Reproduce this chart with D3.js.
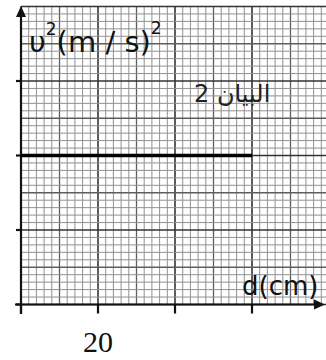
<!DOCTYPE html>
<html><head><meta charset="utf-8">
<script src="https://cdn.jsdelivr.net/npm/d3@7"></script>
<style>html,body{margin:0;padding:0;background:#fff;}svg{display:block;}</style>
</head><body>
<script>
// Data
const dValues = [0, 60];            // d (cm)
const v2Values = [2, 2];            // v^2 (grid units)
const xMajorTicks = [0, 20, 40, 60];
const xTickLabels = [{value: 20, label: "20"}];
const yMajorTicks = [0, 1, 2, 3];
const yLabel = "υ";
const xLabel = "d(cm)";
const graphLabel = "البيان 2";

const W = 326, H = 360;
const svg = d3.select("body").append("svg").attr("width", W).attr("height", H);

const x = d3.scaleLinear().domain([0, 80]).range([21, 329]);
const y = d3.scaleLinear().domain([0, 4]).range([304.5, 6.5]);

const gGrid = svg.append("g");
const xMinor = d3.range(0, 79.5, 2);
const yMinor = d3.range(0, 4.01, 0.1);

function styleFor(v, step) {
  const k = Math.round(v / step);
  if (k % 10 === 0) return {c: "#333", w: 1.6};
  if (k % 5 === 0) return {c: "#5e5e5e", w: 1.3};
  return {c: "#919191", w: 1};
}
xMinor.forEach(v => {
  const s = styleFor(v, 2);
  gGrid.append("line").attr("x1", x(v)).attr("x2", x(v)).attr("y1", y(4)).attr("y2", y(0))
    .attr("stroke", s.c).attr("stroke-width", s.w);
});
yMinor.forEach(v => {
  const s = styleFor(v, 0.1);
  gGrid.append("line").attr("x1", x(0)).attr("x2", W).attr("y1", y(v)).attr("y2", y(v))
    .attr("stroke", s.c).attr("stroke-width", s.w);
});

// Axes
const gAx = svg.append("g").attr("stroke", "#111").attr("fill", "none");
gAx.append("line").attr("x1", 15).attr("x2", 320).attr("y1", y(0)).attr("y2", y(0)).attr("stroke-width", 2.2);
gAx.append("line").attr("x1", x(0)).attr("x2", x(0)).attr("y1", 314).attr("y2", 12).attr("stroke-width", 2.2);
// arrows
svg.append("path").attr("d", `M${x(0)-5},${17} L${x(0)},${6} L${x(0)+5},${17} Z`).attr("fill", "#111");
svg.append("path").attr("d", `M314,${y(0)-5} L325,${y(0)} L314,${y(0)+5} Z`).attr("fill", "#111");
// ticks
xMajorTicks.forEach(v => {
  gAx.append("line").attr("x1", x(v)).attr("x2", x(v)).attr("y1", y(0)).attr("y2", y(0) + 9).attr("stroke-width", 2.2);
});
yMajorTicks.forEach(v => {
  gAx.append("line").attr("x1", x(0) - 5).attr("x2", x(0)).attr("y1", y(v)).attr("y2", y(v)).attr("stroke-width", 2.2);
});

// Data line
const line = d3.line().x((d, i) => x(dValues[i])).y((d, i) => y(v2Values[i]));
svg.append("path").datum(dValues).attr("d", line).attr("stroke", "#000").attr("stroke-width", 3.5).attr("fill", "none");

// Text
const sans = "'DejaVu Sans', sans-serif";
const yl = svg.append("text").attr("x", 29).attr("y", 52).attr("font-family", sans).attr("font-size", 29).attr("fill", "#111");
yl.append("tspan").text(yLabel);
yl.append("tspan").attr("font-size", 17).attr("dy", -17).text("2");
yl.append("tspan").attr("dy", 17).text("(m / s)");
yl.append("tspan").attr("font-size", 17).attr("dy", -18).text("2");

svg.append("text").attr("x", 194).attr("y", 102).attr("font-family", sans).attr("font-size", 24)
  .attr("fill", "#222").text(graphLabel);

svg.append("text").attr("x", 242).attr("y", 295).attr("font-family", sans).attr("font-size", 26)
  .attr("fill", "#111").text(xLabel);

xTickLabels.forEach(t => {
  svg.append("text").attr("x", x(t.value)).attr("y", 352).attr("text-anchor", "middle")
    .attr("font-family", "'Liberation Serif', 'Times New Roman', serif").attr("font-size", 30)
    .attr("fill", "#111").text(t.label);
});
</script>
</body></html>
